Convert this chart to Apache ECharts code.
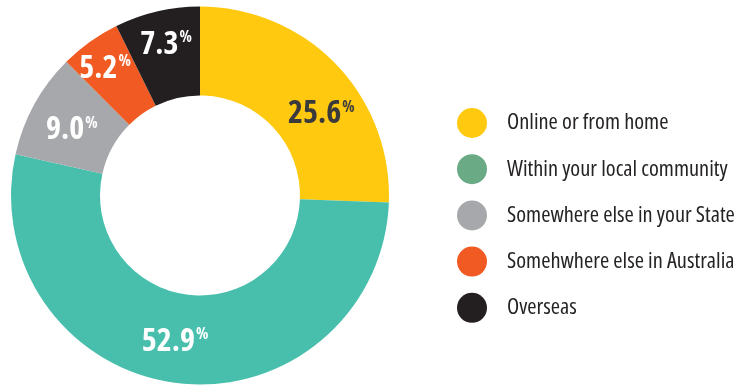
<!DOCTYPE html>
<html>
<head>
<meta charset="utf-8">
<script src="https://cdn.jsdelivr.net/npm/echarts@6/dist/echarts.min.js"></script>
<style>
  html, body { margin: 0; padding: 0; background: #ffffff; }
  #chart { width: 735px; height: 387px; }
</style>
</head>
<body>
<div id="chart"></div>
<script>
// Where respondents take part: share of responses (%)
const categories = [
  'Online or from home',
  'Within your local community',
  'Somewhere else in your State',
  'Somehwhere else in Australia',
  'Overseas'
];
const shares = [25.6, 52.9, 9.0, 5.2, 7.3];

// Slice fills, legend dot fills and value label colours
const sliceColors = ['#fec90f', '#48bfac', '#a7a8ab', '#f15a22', '#231f20'];
const legendColors = ['#fec90f', '#6aab86', '#a7a8ab', '#f15a22', '#231f20'];
const labelColors = ['#3a3a3c', '#ffffff', '#ffffff', '#ffffff', '#ffffff'];
// Nudges for the value labels away from the ring mid-line
const labelNudges = [[15, 21], [-6, 0], [1, 5.5], [-9, -7], [-0.5, -7]];

const condensed = '"Open Sans", Roboto, sans-serif';

const chart = echarts.init(document.getElementById('chart'), null, { renderer: 'canvas' });

const pieData = categories.map((name, i) => ({
  name: name,
  value: shares[i],
  itemStyle: { color: sliceColors[i] },
  label: {
    offset: labelNudges[i],
    rich: {
      n: { fontSize: 32, fontWeight: 'bold condensed', fontFamily: condensed, color: labelColors[i], lineHeight: 32 },
      p: { fontSize: 16, fontWeight: 'bold condensed', fontFamily: condensed, color: labelColors[i], lineHeight: 16, padding: [0, 0, 14, 1] }
    }
  }
}));

chart.setOption({
  animation: false,
  legend: {
    orient: 'vertical',
    left: 452,
    top: 103,
    icon: 'circle',
    itemWidth: 30,
    itemHeight: 30,
    itemGap: 16.2,
    selectedMode: false,
    textStyle: { fontSize: 22.4, fontWeight: 'condensed', fontFamily: condensed, color: '#262324', padding: [0, 0, 0, 15] },
    data: categories.map((name, i) => ({ name: name, itemStyle: { color: legendColors[i] } }))
  },
  series: [{
    type: 'pie',
    center: [200, 195.5],
    radius: [100, 189],
    startAngle: 90,
    clockwise: true,
    silent: true,
    avoidLabelOverlap: false,
    labelLayout: { hideOverlap: false },
    label: {
      show: true,
      position: 'inside',
      formatter: p => '{n|' + p.value.toFixed(1) + '}{p|%}'
    },
    labelLine: { show: false },
    data: pieData
  }]
});
</script>
</body>
</html>
